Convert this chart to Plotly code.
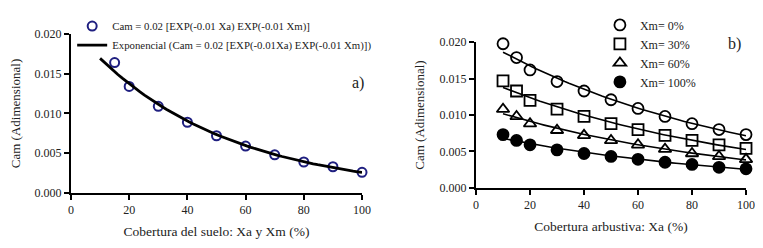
import numpy as np
import plotly.graph_objects as go

# ---- Panel a) data ----
xa_a = [15, 20, 30, 40, 50, 60, 70, 80, 90, 100]
cam_a = [0.0164, 0.0134, 0.0109, 0.0089, 0.0072, 0.0059, 0.0048, 0.0039, 0.0033, 0.0026]

# ---- Panel b) data ----
xa_b = [10, 15, 20, 30, 40, 50, 60, 70, 80, 90, 100]
cam_xm0 = [0.0198, 0.0179, 0.0162, 0.0146, 0.0133, 0.0121, 0.0109, 0.0098, 0.0088, 0.0080, 0.0073]
cam_xm30 = [0.0147, 0.0133, 0.0120, 0.0108, 0.0098, 0.0088, 0.0080, 0.0072, 0.0065, 0.0059, 0.0054]
cam_xm60 = [0.0108, 0.0098, 0.0088, 0.0079, 0.0072, 0.0065, 0.0059, 0.0053, 0.0047, 0.0043, 0.0039]
cam_xm100 = [0.0073, 0.0065, 0.0059, 0.0052, 0.0047, 0.0043, 0.0039, 0.0035, 0.0032, 0.0028, 0.0026]

labels_b = ["Xm= 0%", "Xm= 30%", "Xm= 60%", "Xm= 100%"]
symbols_b = ["circle-open", "square-open", "triangle-up-open", "circle"]
xticks = [0, 20, 40, 60, 80, 100]
yticks = [0.0, 0.005, 0.010, 0.015, 0.020]

FONT = "'Liberation Serif', 'Times New Roman', Times, serif"


def exp_fit(x, y, x_from, x_to):
    """Exponential trendline (least squares on log y), like a spreadsheet trendline."""
    b, ln_a = np.polyfit(np.asarray(x, float), np.log(np.asarray(y, float)), 1)
    xs = np.linspace(x_from, x_to, 60)
    return xs, np.exp(ln_a) * np.exp(b * xs)


fig = go.Figure()

# Panel a
fig.add_trace(go.Scatter(
    x=xa_a, y=cam_a, mode="markers", xaxis="x", yaxis="y",
    name="Cam = 0.02 [EXP(-0.01 Xa) EXP(-0.01 Xm)]",
    marker=dict(symbol="circle-open", size=9, color="#1f1f80", line=dict(width=2, color="#1f1f80")),
    cliponaxis=False, legend="legend"))
fx, fy = exp_fit(xa_a, cam_a, 10, 100)
fig.add_trace(go.Scatter(
    x=fx, y=fy, mode="lines", xaxis="x", yaxis="y",
    name="Exponencial (Cam = 0.02 [EXP(-0.01Xa) EXP(-0.01 Xm)])",
    line=dict(color="black", width=2.8), cliponaxis=False, legend="legend"))

# Panel b
for lab, sym, ys in zip(labels_b, symbols_b, [cam_xm0, cam_xm30, cam_xm60, cam_xm100]):
    lx, ly = exp_fit(xa_b, ys, 10, 100)
    fig.add_trace(go.Scatter(
        x=lx, y=ly, mode="lines", xaxis="x2", yaxis="y2", showlegend=False,
        line=dict(color="black", width=1.6), cliponaxis=False))
    fig.add_trace(go.Scatter(
        x=xa_b, y=ys, mode="markers", xaxis="x2", yaxis="y2", name=lab,
        marker=dict(symbol=sym, size=11, color="black",
                    line=dict(width=1.8, color="black")),
        cliponaxis=False, legend="legend2"))

axis_common = dict(
    showgrid=False, zeroline=False, showline=True, linecolor="black", linewidth=2,
    ticks="outside", ticklen=5, tickwidth=1.5, tickcolor="black", automargin=False,
    tickfont=dict(family=FONT, size=12, color="#222"),
)

fig.update_layout(
    width=755, height=240,
    margin=dict(l=0, r=0, t=0, b=0, autoexpand=False),
    paper_bgcolor="white", plot_bgcolor="white",
    font=dict(family=FONT, color="#222"),
    xaxis=dict(domain=[0.0834, 0.4689], range=[0, 100], tickvals=xticks,
               title=dict(text="Cobertura del suelo: Xa y Xm (%)", font=dict(family=FONT, size=13.5), standoff=10),
               anchor="y", **axis_common),
    yaxis=dict(domain=[0.2292, 0.8917], range=[0, 0.02], tickvals=yticks, tickformat=".3f",
               title=dict(text="Cam (Adimensional)", font=dict(family=FONT, size=13), standoff=12),
               anchor="x", **axis_common),
    xaxis2=dict(domain=[0.6199, 0.9775], range=[0, 100], tickvals=xticks,
                title=dict(text="Cobertura arbustiva: Xa (%)", font=dict(family=FONT, size=13.5), standoff=10),
                anchor="y2", **axis_common),
    yaxis2=dict(domain=[0.2513, 0.8571], range=[0, 0.02], tickvals=yticks, tickformat=".3f",
                title=dict(text="Cam (Adimensional)", font=dict(family=FONT, size=13), standoff=12),
                anchor="x2", **axis_common),
    legend=dict(x=0.085, y=0.985, xanchor="left", yanchor="top", bgcolor="rgba(0,0,0,0)",
                font=dict(family=FONT, size=10.8, color="#222"), tracegroupgap=0),
    legend2=dict(x=0.784, y=0.99, xanchor="left", yanchor="top", bgcolor="rgba(0,0,0,0)",
                 font=dict(family=FONT, size=12, color="#222"), itemwidth=30, tracegroupgap=0),
    annotations=[
        dict(text="a)", x=0.4636, y=0.6875, xref="paper", yref="paper", showarrow=False,
             xanchor="center", yanchor="middle",
             font=dict(family=FONT, size=16, color="#222")),
        dict(text="b)", x=0.9629, y=0.85, xref="paper", yref="paper", showarrow=False,
             xanchor="center", yanchor="middle",
             font=dict(family=FONT, size=16, color="#222")),
    ],
)

fig.write_html("out.html")
